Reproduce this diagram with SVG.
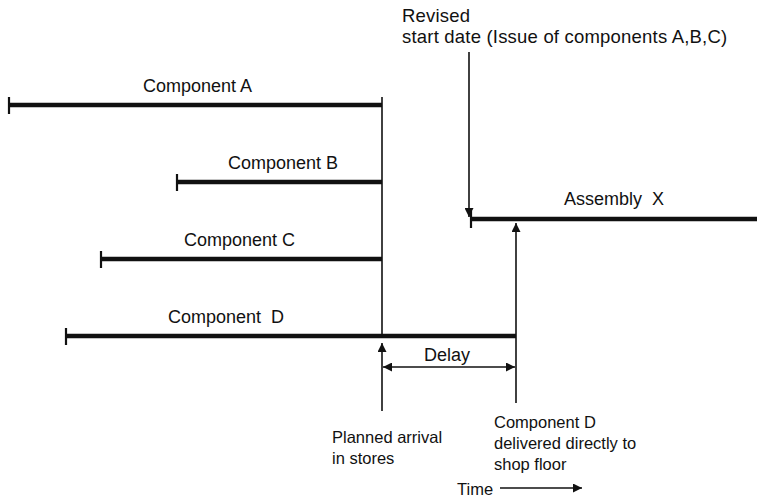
<svg xmlns="http://www.w3.org/2000/svg" width="757" height="498" viewBox="0 0 757 498">
  <style>
    text { font-family: "Liberation Sans", Arial, sans-serif; font-size: 18px; fill: #111; white-space: pre; }
    .note { font-size: 16.5px; }
    .wide { font-size: 18.5px; letter-spacing: 0.2px; }
    .bar { stroke: #111; stroke-width: 4.5; fill: none; }
    .tick { stroke: #111; stroke-width: 2.2; fill: none; }
    .thin { stroke: #111; stroke-width: 1.6; fill: none; }
  </style>
  <defs>
    <marker id="head" viewBox="0 0 10 10" refX="10" refY="5" markerWidth="10" markerHeight="9" markerUnits="userSpaceOnUse" orient="auto-start-reverse">
      <path d="M0,0 L10,5 L0,10 Z" fill="#111"/>
    </marker>
  </defs>

  <rect width="757" height="498" fill="#fff"/>

  <!-- activity bars -->
  <g id="component-a">
    <line class="bar" x1="9" y1="105" x2="382" y2="105"/>
    <line class="tick" x1="9" y1="97" x2="9" y2="114"/>
    <text x="143" y="92">Component A</text>
  </g>
  <g id="component-b">
    <line class="bar" x1="177" y1="182" x2="382" y2="182"/>
    <line class="tick" x1="177" y1="174" x2="177" y2="191"/>
    <text x="228" y="169">Component B</text>
  </g>
  <g id="component-c">
    <line class="bar" x1="101" y1="259" x2="382" y2="259"/>
    <line class="tick" x1="101" y1="251" x2="101" y2="268"/>
    <text x="184" y="246">Component C</text>
  </g>
  <g id="component-d">
    <line class="bar" x1="66" y1="336" x2="516" y2="336"/>
    <line class="tick" x1="66" y1="328" x2="66" y2="345"/>
    <text x="168" y="323">Component  D</text>
  </g>
  <g id="assembly-x">
    <line class="bar" x1="471" y1="219" x2="757" y2="219"/>
    <line class="tick" x1="471" y1="211" x2="471" y2="228"/>
    <text x="564" y="205">Assembly  X</text>
  </g>

  <!-- annotations -->
  <g id="revised-start">
    <text class="wide" x="402" y="22">Revised</text>
    <text class="wide" x="402" y="43">start date (Issue of components A,B,C)</text>
  </g>
  <g id="planned-arrival">
    <text class="note" x="332" y="443">Planned arrival</text>
    <text class="note" x="332" y="464">in stores</text>
  </g>
  <g id="direct-delivery">
    <text class="note" x="494" y="428">Component D</text>
    <text class="note" x="494" y="449">delivered directly to</text>
    <text class="note" x="494" y="470">shop floor</text>
  </g>
  <g id="delay-label">
    <text x="424" y="361">Delay</text>
  </g>
  <g id="time-axis">
    <text class="note" x="457" y="495">Time</text>
  </g>

  <!-- connectors -->
  <g id="connectors">
    <line class="thin" x1="382" y1="97" x2="382" y2="338"/>
    <line class="thin" x1="382" y1="411" x2="382" y2="343" marker-end="url(#head)"/>
    <line class="thin" x1="469" y1="52" x2="469" y2="217" marker-end="url(#head)"/>
    <line class="thin" x1="516" y1="403" x2="516" y2="223" marker-end="url(#head)"/>
    <line class="thin" x1="383" y1="367" x2="515" y2="367" marker-start="url(#head)" marker-end="url(#head)"/>
    <line class="thin" x1="500" y1="488" x2="582" y2="488" marker-end="url(#head)"/>
  </g>
</svg>
